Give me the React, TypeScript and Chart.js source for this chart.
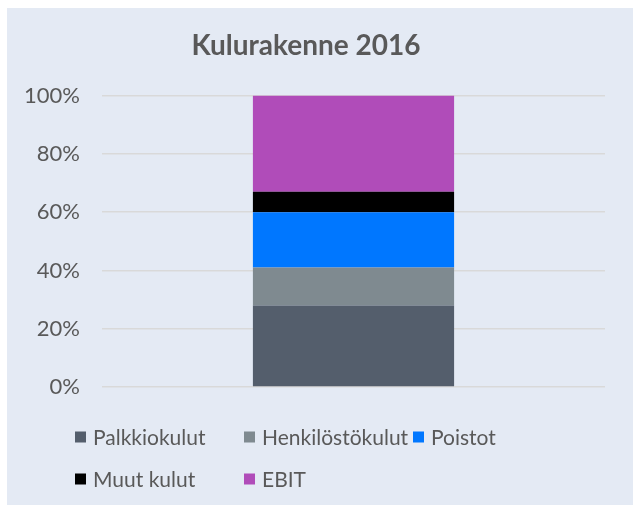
import React, { useEffect, useRef } from "react";
import { Chart, registerables } from "chart.js";

Chart.register(...registerables);

const categories = ["2016"];
const seriesNames = ["Palkkiokulut", "Henkilöstökulut", "Poistot", "Muut kulut", "EBIT"];
const palkkiokulut = [28];
const henkilostokulut = [13];
const poistot = [19];
const muutKulut = [7];
const ebit = [33];
const seriesColors = ["#545e6c", "#7f8a90", "#0077ff", "#000000", "#b04cb9"];
const yTicks = [0, 20, 40, 60, 80, 100];
const titleText = "Kulurakenne 2016";

const FONT = "Lato, 'Open Sans', sans-serif";
const TEXT = "#595959";

const gridLegend = {
  id: "gridLegend",
  afterDraw(chart: any) {
    const ctx = chart.ctx;
    const ds = chart.data.datasets;
    ctx.save();
    ctx.font = `21px ${FONT}`;
    ctx.textBaseline = "middle";
    ctx.textAlign = "left";
    ds.forEach((d: any, i: number) => {
      const col = i % 3;
      const row = Math.floor(i / 3);
      const x = 68 + col * 169;
      const y = 429 + row * 42;
      ctx.fillStyle = d.backgroundColor;
      ctx.fillRect(x, y - 5.5, 11, 11);
      ctx.fillStyle = TEXT;
      ctx.fillText(d.label, x + 18, y + 1);
    });
    ctx.restore();
  },
};

export default function App() {
  const ref = useRef<HTMLCanvasElement | null>(null);
  useEffect(() => {
    if (!ref.current) return;
    const values = [palkkiokulut, henkilostokulut, poistot, muutKulut, ebit];
    const chart = new Chart(ref.current, {
      type: "bar",
      data: {
        labels: categories,
        datasets: seriesNames.map((name, i) => ({
          label: name,
          data: values[i],
          backgroundColor: seriesColors[i],
          borderWidth: 0,
          barPercentage: 0.5,
          categoryPercentage: 0.8,
        })),
      },
      options: {
        animation: false,
        responsive: false,
        maintainAspectRatio: false,
        layout: { padding: { left: 0, right: 28, top: 0, bottom: 118 } },
        plugins: {
          legend: { display: false },
          tooltip: { enabled: false },
          title: {
            display: true,
            text: titleText,
            color: TEXT,
            font: { family: FONT, size: 28, weight: "bold" },
            padding: { top: 21, bottom: 33 },
          },
        },
        scales: {
          x: { stacked: true, display: false },
          y: {
            stacked: true,
            min: 0,
            max: 100,
            afterFit: (axis: any) => {
              axis.width = 95;
            },
            afterBuildTicks: (axis: any) => {
              axis.ticks = yTicks.map((v) => ({ value: v }));
            },
            ticks: {
              padding: 22,
              color: TEXT,
              font: { family: FONT, size: 22 },
              callback: (v: any) => v + "%",
            },
            grid: { color: "#d9d9d9", lineWidth: 1.5, drawTicks: false },
            border: { display: false },
          },
        },
      },
      plugins: [gridLegend],
    });
    return () => chart.destroy();
  }, []);
  return (
    <div
      style={{
        position: "fixed",
        left: 7,
        top: 8,
        width: 626,
        height: 497,
        background: "#e4eaf4",
      }}
    >
      <canvas ref={ref} width={626} height={497} style={{ display: "block" }} />
    </div>
  );
}
